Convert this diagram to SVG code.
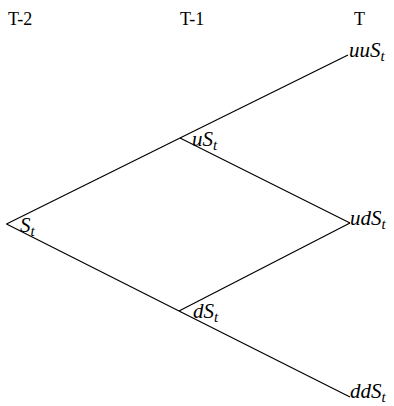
<svg xmlns="http://www.w3.org/2000/svg" width="394" height="406" viewBox="0 0 394 406">
<style>
.hd{font-family:"Liberation Serif","DejaVu Serif",serif;font-size:18px;fill:#000}
.m{font-family:"Liberation Serif","DejaVu Serif",serif;font-style:italic;font-size:21px;fill:#000}
.sub{font-size:15px}
.ln{stroke:#000;stroke-width:1.2;fill:none}
</style>
<rect width="394" height="406" fill="#fff"/>
<g id="headers">
<text class="hd" x="8" y="25">T-2</text>
<text class="hd" x="180" y="25">T-1</text>
<text class="hd" x="354" y="25">T</text>
</g>
<g id="connectors">
<line class="ln" x1="6.5" y1="224" x2="180" y2="138"/>
<line class="ln" x1="180" y1="138" x2="348" y2="55"/>
<line class="ln" x1="6.5" y1="224" x2="179" y2="311"/>
<line class="ln" x1="179" y1="311" x2="350" y2="397"/>
<line class="ln" x1="180" y1="138" x2="350" y2="223"/>
<line class="ln" x1="179" y1="311" x2="350" y2="223"/>
</g>
<g id="n-root"><text class="m" x="20" y="232">S<tspan class="sub" dy="4">t</tspan></text></g>
<g id="n-u"><text class="m" x="192" y="146">uS<tspan class="sub" dy="4">t</tspan></text></g>
<g id="n-d"><text class="m" x="193" y="318">dS<tspan class="sub" dy="4">t</tspan></text></g>
<g id="n-uu"><text class="m" x="349" y="57">uuS<tspan class="sub" dy="4">t</tspan></text></g>
<g id="n-ud"><text class="m" x="350" y="225">udS<tspan class="sub" dy="4">t</tspan></text></g>
<g id="n-dd"><text class="m" x="350" y="398">ddS<tspan class="sub" dy="4">t</tspan></text></g>
</svg>
